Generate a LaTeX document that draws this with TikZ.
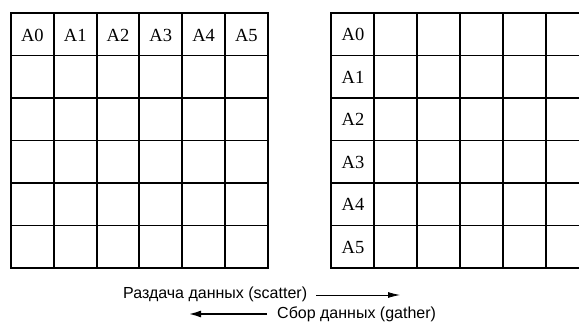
\documentclass[tikz,border=0pt]{standalone}
\usepackage{fontspec}
\setmainfont{Liberation Serif}
\newfontfamily\capfont{Liberation Sans}
\usetikzlibrary{arrows.meta}
\begin{document}
\begin{tikzpicture}[x=1pt,y=-1pt,
  gridline/.style={line width=1.9pt, line cap=rect},
  lab/.style={font=\fontsize{18.5}{19}\selectfont, inner sep=0},
  captext/.style={font=\capfont\fontsize{16}{16}\selectfont, anchor=base west, inner sep=0},
  thinarrow/.style={line width=0.8pt, -{Latex[length=12pt,width=6pt]}},
  thickarrow/.style={line width=2.2pt, -{Latex[length=13pt,width=7pt]}}]
\useasboundingbox (0,0) rectangle (579,322);
\clip (0,0) rectangle (579,322);
\fill[white] (0,0) rectangle (579,322);
% left grid
\foreach \i in {0,...,6} {
  \draw[gridline] ({11+\i*42.8},13) -- ({11+\i*42.8},268);
  \draw[gridline] (11,{13+\i*42.5}) -- (267.8,{13+\i*42.5});
}
% right grid
\foreach \i in {0,...,6} {
  \draw[gridline] ({331+\i*43},13) -- ({331+\i*43},268);
  \draw[gridline] (331,{13+\i*42.5}) -- (589,{13+\i*42.5});
}
% labels
\foreach \i in {0,...,5} {
  \node[lab] (l\i) at ({11+42.8*(\i+0.5)},35) {A\i};
  \node[lab] (r\i) at (353,{13+42.5*(\i+0.5)+0.5}) {A\i};
}
% captions
\node[captext] (sc) at (123,298.5) {Раздача данных (scatter)};
\node[captext] (ga) at (277,318.5) {Сбор данных (gather)};
\coordinate (scs) at (316,295);
\coordinate (sce) at (400,295);
\coordinate (gas) at (267,314);
\coordinate (gae) at (188,314);
\draw[thinarrow] (scs) -- (sce);
\draw[thickarrow] (gas) -- (gae);
\end{tikzpicture}
\end{document}
